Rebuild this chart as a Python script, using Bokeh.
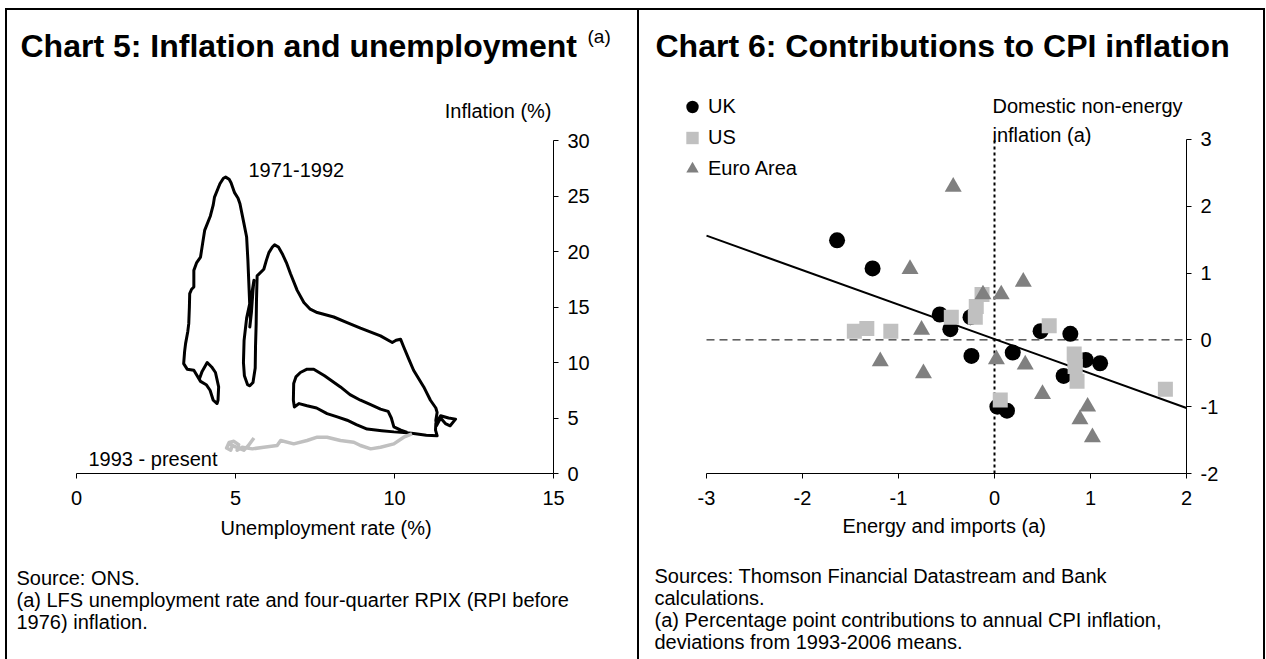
from bokeh.plotting import figure
from bokeh.layouts import row
from bokeh.models import (Label, Legend, LegendItem, Title, FixedTicker, Range1d,
                          CustomJSTickFormatter)
from bokeh.embed import file_html
from bokeh.resources import INLINE

FONT = "Liberation Sans"

# ---------------- Chart 5 data: unemployment (%) vs inflation (%) ----------------
u_1971_1992 = [3.85, 3.95, 4.11, 4.25, 4.37, 4.47, 4.45, 4.42, 4.30, 4.20,
               4.08, 3.90, 3.69, 3.48, 3.37, 3.40, 3.43, 3.50, 3.53, 3.55,
               3.56, 3.62, 3.69, 3.69, 3.78, 3.90, 3.97, 4.03, 4.21, 4.30,
               4.34, 4.51, 4.62, 4.69, 4.80, 4.86, 4.97, 5.08, 5.14, 5.26,
               5.35, 5.39, 5.42, 5.45, 5.47, 5.45, 5.50, 5.55, 5.58, 5.50,
               5.35, 5.27, 5.25, 5.28, 5.38, 5.45, 5.55, 5.62, 5.63, 5.65,
               5.66, 5.68, 5.89, 5.97, 6.05, 6.16, 6.23, 6.35, 6.47, 6.60,
               6.73, 6.94, 7.15, 7.35, 7.57, 8.09, 8.51, 8.93, 9.56, 9.93,
               10.05, 10.19, 10.29, 10.45, 10.60, 10.92, 11.13, 11.30, 11.34, 11.30,
               11.32, 11.45, 11.60, 11.75, 11.92, 11.70, 11.45, 11.30, 11.29, 11.34,
               11.00, 10.60, 10.30, 9.98, 9.60, 9.14, 8.80, 8.51, 8.20, 7.88,
               7.55, 7.25, 7.00, 6.85, 6.82, 6.83, 6.90, 7.04, 7.25, 7.46,
               7.80, 8.30, 8.60, 8.93, 9.25, 9.56, 9.80, 9.90, 9.98, 10.20,
               10.40]
inf_1971_1992 = [8.4, 9.2, 10.0, 9.6, 9.1, 7.8, 6.6, 6.3, 6.6, 7.5,
                 8.0, 8.3, 9.3, 9.4, 9.9, 11.0, 11.7, 12.8, 13.5, 15.0,
                 16.2, 16.6, 16.8, 18.3, 19.0, 19.5, 20.8, 21.9, 23.2, 24.2,
                 24.9, 26.1, 26.6, 26.7, 26.5, 26.2, 25.3, 24.8, 24.3, 22.6,
                 21.3, 19.2, 17.1, 15.0, 13.8, 13.2, 14.5, 16.5, 17.4, 16.0,
                 14.0, 12.0, 10.0, 8.8, 8.0, 7.9, 8.2, 9.5, 11.5, 13.5,
                 15.6, 17.8, 18.4, 19.2, 19.9, 20.4, 20.6, 20.4, 19.8, 19.0,
                 18.0, 16.5, 15.4, 14.8, 14.5, 14.1, 13.6, 13.1, 12.4, 11.8,
                 12.0, 12.1, 11.4, 10.3, 9.3, 7.8, 6.6, 5.9, 5.5, 4.8,
                 4.3, 5.0, 4.5, 4.3, 4.9, 5.0, 5.2, 4.5, 3.9, 3.4,
                 3.45, 3.6, 3.7, 3.75, 3.85, 4.0, 4.4, 4.8, 5.1, 5.4,
                 5.9, 6.1, 6.3, 6.0, 6.6, 8.1, 8.7, 9.1, 9.4, 9.4,
                 8.8, 7.8, 7.1, 6.6, 6.2, 5.8, 5.6, 5.0, 4.2, 3.9,
                 3.7]
u_1993_present = [10.55, 10.29, 9.98, 9.56, 9.25, 8.93, 8.72, 8.30, 7.88, 7.57,
                  7.25, 6.83, 6.42, 6.31, 5.89, 5.53, 5.21, 5.05, 5.10, 4.95,
                  4.80, 4.72, 4.85, 4.90, 4.78, 5.00, 5.26, 5.40, 5.58]
inf_1993_present = [3.57, 3.27, 2.67, 2.37, 2.22, 2.52, 2.82, 2.97, 3.27, 3.27,
                    2.97, 2.67, 2.97, 2.52, 2.37, 2.22, 2.37, 2.10, 2.60, 2.90,
                    2.80, 2.30, 2.10, 2.50, 2.70, 2.40, 2.10, 2.50, 3.20]
ticks_c5_x = [0, 5, 10, 15]
ticks_c5_y = [0, 5, 10, 15, 20, 25, 30]

# ---------------- Chart 6 data: energy & imports vs domestic non-energy ----------------
uk_x = [-1.64, -1.27, -0.57, -0.46, -0.25, -0.24, 0.03, 0.13, 0.19, 0.48, 0.72, 0.79, 0.95, 1.10]
uk_y = [1.49, 1.07, 0.38, 0.16, 0.34, -0.24, -1.00, -1.06, -0.19, 0.13, -0.54, 0.09, -0.30, -0.35]
us_x = [-1.46, -1.33, -1.08, -0.45, -0.20, -0.19, -0.13, 0.06, 0.57, 0.83, 0.84, 0.84, 0.86, 1.78]
us_y = [0.13, 0.17, 0.13, 0.34, 0.34, 0.50, 0.68, -0.90, 0.21, -0.21, -0.30, -0.40, -0.62, -0.74]
ea_x = [-1.19, -0.88, -0.76, -0.74, -0.43, -0.12, 0.02, 0.07, 0.30, 0.32, 0.50, 0.89, 0.97, 1.02]
ea_y = [-0.32, 1.06, 0.15, -0.50, 2.29, 0.68, -0.29, 0.68, 0.87, -0.37, -0.81, -1.19, -1.00, -1.46]
fit_x = [-3.0, 2.0]
fit_y = [1.56, -1.02]
ticks_c6_x = [-3, -2, -1, 0, 1, 2]
ticks_c6_y = [-2, -1, 0, 1, 2, 3]

# ---------------- layout geometry (page pixels) ----------------
H = 649            # canvas height (page y 10 .. 659)
TOP = 42           # frame top inside canvas (titles live above it)
C5_OX, C5_W = 7, 630
C5_X0, C5_X15, C5_Y0, C5_Y30 = 76, 553, 473, 140
C6_OX, C6_W = 639, 624
C6_XM3, C6_X2, C6_YM2, C6_Y3 = 706, 1186, 478, 140

fmt = CustomJSTickFormatter(code="return tick.toString();")


def base_fig(width, xr, yr, xb, yb, mb_right, mb_bottom, margin):
    p = figure(width=width, height=H, x_range=Range1d(*xr), y_range=Range1d(*yr),
               y_axis_location="right", output_backend="svg", toolbar_location=None,
               min_border_left=0, min_border_right=mb_right,
               min_border_top=TOP, min_border_bottom=mb_bottom, margin=margin,
               styles={"background-color": "white"})
    p.grid.visible = False
    p.outline_line_color = None
    p.background_fill_color = "white"
    p.border_fill_color = "white"
    for ax in (p.xaxis[0], p.yaxis[0]):
        ax.axis_line_color = "black"
        ax.axis_line_width = 1
        ax.major_tick_line_color = "black"
        ax.major_tick_out = 5
        ax.major_tick_in = 0
        ax.minor_tick_line_color = None
        ax.major_label_text_font = FONT
        ax.major_label_text_font_size = "20px"
        ax.major_label_text_color = "black"
        ax.formatter = fmt
    p.xaxis[0].bounds = xb
    p.yaxis[0].bounds = yb
    p.xaxis[0].major_label_standoff = 12
    p.yaxis[0].major_label_standoff = 9
    return p


def title_cfg(t, text, offset, size, style, standoff):
    t.text = text
    t.align = "left"
    t.offset = offset
    t.vertical_align = "middle"
    t.standoff = standoff
    t.text_font = FONT
    t.text_font_size = size
    t.text_font_style = style
    t.text_color = "black"
    return t


def below_text(p, text, offset, standoff, valign="top", line_height=1.0):
    p.add_layout(Title(text=text, align="left", offset=offset, vertical_align=valign,
                       standoff=standoff, text_font=FONT, text_font_size="20px",
                       text_font_style="normal", text_color="black",
                       text_line_height=line_height), "below")


def lab(p, fx, fy, text, px, py, size="20px", align="left"):
    p.add_layout(Label(x=px - fx, y=fy - py, x_units="screen", y_units="screen",
                       text=text, text_font=FONT, text_font_size=size,
                       text_align=align, text_baseline="middle", text_color="black"))


# ---------------- Chart 5 ----------------
u_px = (C5_X15 - C5_X0) / 15.0
i_px = (C5_Y0 - C5_Y30) / 30.0
x5 = (-(C5_X0 - C5_OX) / u_px, 15)
y5 = (0, 30 + (C5_Y30 - (10 + TOP)) / i_px)
p1 = base_fig(C5_W, x5, y5, (0, 15), (0, 30),
              C5_W - (C5_X15 - C5_OX), H - (C5_Y0 - 10), (2, 0, 0, 2))
p1.xaxis[0].ticker = FixedTicker(ticks=ticks_c5_x)
p1.yaxis[0].ticker = FixedTicker(ticks=ticks_c5_y)
p1.line(u_1971_1992, inf_1971_1992, line_color="black", line_width=3, line_join="round")
p1.line(u_1993_present, inf_1993_present, line_color="#c0c0c0", line_width=3.5,
        line_join="round")
# main title sits next to the frame, the superscript row just outside it
p1.add_layout(title_cfg(Title(), "Chart 5:  Inflation and unemployment", 13,
                        "32px", "bold", -24), "above")
title_cfg(p1.title, "(a)", 580, "19px", "normal", -19)
F1X, F1Y = C5_OX, C5_Y0
lab(p1, F1X, F1Y, "Inflation (%)", 551, 110, align="right")
lab(p1, F1X, F1Y, "1971-1992", 248, 169)
lab(p1, F1X, F1Y, "1993 - present", 88, 458)
below_text(p1, "Unemployment rate (%)", 213, 16, valign="middle", line_height=1.05)
below_text(p1, "\nSource:  ONS.\n(a) LFS unemployment rate and four-quarter RPIX (RPI before\n"
               "1976) inflation.", 9, -5)

# ---------------- Chart 6 ----------------
e_px = (C6_X2 - C6_XM3) / 5.0
d_px = (C6_YM2 - C6_Y3) / 5.0
x6 = (-3 - (C6_XM3 - C6_OX) / e_px, 2)
y6 = (-2, 3 + (C6_Y3 - (10 + TOP)) / d_px)
p2 = base_fig(C6_W, x6, y6, (-3, 2), (-2, 3),
              C6_W - (C6_X2 - C6_OX), H - (C6_YM2 - 10), (2, 2, 0, 2))
p2.xaxis[0].ticker = FixedTicker(ticks=ticks_c6_x)
p2.yaxis[0].ticker = FixedTicker(ticks=ticks_c6_y)
p2.line([ticks_c6_x[0], ticks_c6_x[-1]], [0, 0], line_color="black", line_width=1,
        line_dash="8 5")
p2.line([0, 0], [ticks_c6_y[0], ticks_c6_y[-1]], line_color="black", line_width=2,
        line_dash="3 3")
p2.line(fit_x, fit_y, line_color="black", line_width=2)
r_uk = p2.scatter(uk_x, uk_y, marker="circle", size=16, fill_color="black", line_color=None)
r_us = p2.scatter(us_x, us_y, marker="square", size=15, fill_color="#c0c0c0", line_color=None)
r_ea = p2.scatter(ea_x, ea_y, marker="triangle", size=17, fill_color="#808080", line_color=None)
F2X, F2Y = C6_OX, C6_YM2
legend = Legend(items=[LegendItem(label="UK", renderers=[r_uk]),
                       LegendItem(label="US", renderers=[r_us]),
                       LegendItem(label="Euro Area", renderers=[r_ea])],
                location=(676 - F2X, F2Y - 189), orientation="vertical",
                glyph_width=32, glyph_height=31, label_height=31, spacing=0,
                label_standoff=0, padding=0, margin=0,
                label_text_font=FONT, label_text_font_size="20px",
                label_text_color="black", border_line_alpha=0,
                background_fill_alpha=0)
p2.add_layout(legend)
title_cfg(p2.title, "Chart 6:  Contributions to CPI inflation", 16, "32px", "bold", -24)
lab(p2, F2X, F2Y, "Domestic non-energy", 992, 110)
lab(p2, F2X, F2Y, "inflation (a)", 992, 139)
below_text(p2, "Energy and imports (a)", 203, 12, valign="middle", line_height=1.05)
below_text(p2, "\n\nSources:  Thomson Financial Datastream and Bank\ncalculations.\n"
               "(a) Percentage point contributions to annual CPI inflation,\n"
               "deviations from 1993-2006 means.", 15, -46)

layout = row(p1, p2, spacing=0, margin=(8, 0, 0, 5),
             styles={"background-color": "black"})
open("out.html", "w").write(file_html(layout, INLINE))
